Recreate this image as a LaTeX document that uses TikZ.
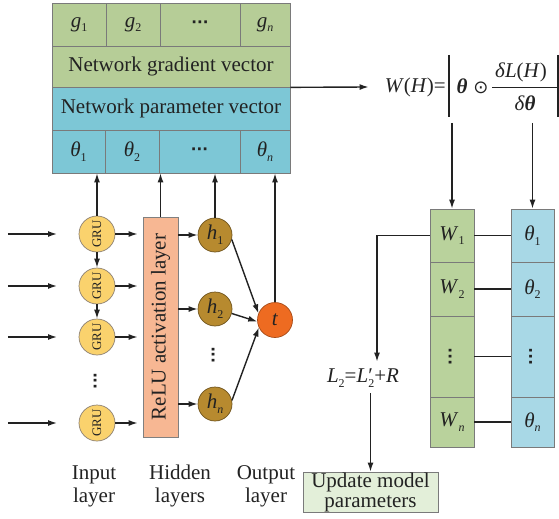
\documentclass[tikz,border=0pt]{standalone}
\usepackage{fontspec}
\setmainfont{Liberation Serif}
\newfontfamily\symfont{DejaVu Sans}
\usetikzlibrary{arrows.meta}

% small upright subscript
\newcommand\sbs[1]{\raisebox{-0.22em}{\fontsize{12bp}{12bp}\selectfont #1}}
% heavy ellipsis, horizontal and vertical
\newcommand\hdts{{\bfseries\symfont\fontsize{15bp}{15bp}\selectfont ···}}
\newcommand\vdts{\rotatebox{90}{\hdts}}

\definecolor{gradgreen}{HTML}{B6CD97}
\definecolor{parblue}{HTML}{7DC7D6}
\definecolor{wgreen}{HTML}{B9D29C}
\definecolor{thblue}{HTML}{A8D8E6}
\definecolor{gruyel}{HTML}{FAD26D}
\definecolor{hbrown}{HTML}{B78A2F}
\definecolor{torange}{HTML}{EE6B21}
\definecolor{relusal}{HTML}{F7B793}
\definecolor{updgreen}{HTML}{E3EFD9}
\definecolor{edgegray}{HTML}{7A7A7A}
\definecolor{ink}{HTML}{222222}

\begin{document}
\begin{tikzpicture}[x=1bp,y=-1bp,
  every node/.style={font=\fontsize{21bp}{23bp}\selectfont, text=ink},
  cell/.style={draw=edgegray, line width=0.7bp, rectangle, inner sep=0pt, anchor=center},
  grucirc/.style={circle, draw=gray!80!brown, line width=0.7bp, fill=gruyel, minimum size=36bp, inner sep=0pt,
                  font=\fontsize{13bp}{13bp}\selectfont},
  hcirc/.style={circle, draw=hbrown!60!black, line width=0.7bp, fill=hbrown, minimum size=34bp, inner sep=0pt},
  arr/.style={-{Latex[length=9bp,width=6bp]}, line width=1.4bp, draw=ink},
  ln/.style={line width=1.4bp, draw=ink},
  lbl/.style={align=center, inner sep=0pt}
]
\useasboundingbox (0,0) rectangle (559,519);

% ---- gradient vector (top block)
\node[cell, fill=gradgreen, minimum width=54bp, minimum height=43bp] (g1) at (79,24.5) {\textit{g}\sbs{1}};
\node[cell, fill=gradgreen, minimum width=54bp, minimum height=43bp] (g2) at (133,24.5) {\textit{g}\sbs{2}};
\node[cell, fill=gradgreen, minimum width=80bp, minimum height=43bp] (gd) at (200,24.5) {\hdts};
\node[cell, fill=gradgreen, minimum width=50bp, minimum height=43bp] (gn) at (265,24.5) {\textit{g}\sbs{\textit{n}}};
\node[cell, fill=gradgreen, minimum width=238bp, minimum height=41bp] (gv) at (171,66.5) {Network gradient vector};

% ---- parameter vector
\node[cell, fill=parblue, minimum width=238bp, minimum height=43bp] (pv) at (171,108.5) {Network parameter vector};
\node[cell, fill=parblue, minimum width=53bp, minimum height=43bp] (th1) at (78.5,151.5) {\textit{θ}\sbs{1}};
\node[cell, fill=parblue, minimum width=54bp, minimum height=43bp] (th2) at (132,151.5) {\textit{θ}\sbs{2}};
\node[cell, fill=parblue, minimum width=81bp, minimum height=43bp] (thd) at (199.5,151.5) {\hdts};
\node[cell, fill=parblue, minimum width=50bp, minimum height=43bp] (thn) at (265,151.5) {\textit{θ}\sbs{\textit{n}}};

% ---- importance formula
\node[anchor=east, inner sep=0pt] (wh) at (446,87) {\textit{W}(\textit{H})=};
\draw[ln] (449,55) -- (449,117);
\node[inner sep=0pt] (thb) at (462,86) {\textbf{\textit{θ}}};
\node[inner sep=0pt] (od) at (481,88) {\symfont\fontsize{18bp}{18bp}\selectfont ⊙};
\node[inner sep=0pt] (num) at (521,72) {\textit{δL}(\textit{H})};
\node[inner sep=0pt] (den) at (525,103) {\textit{δ}\textbf{\textit{θ}}};
\draw[line width=0.9bp, draw=ink] (492,87) -- (557,87);
\draw[ln] (557.8,55) -- (557.8,117);
\draw[arr] (gv.south east) -- ([xshift=-16bp]wh.west);

% ---- W and theta columns
\node[cell, fill=wgreen, minimum width=44bp, minimum height=53bp] (w1) at (452,235.5) {\textit{W}\sbs{1}};
\node[cell, fill=wgreen, minimum width=44bp, minimum height=54bp] (w2) at (452,289) {\textit{W}\sbs{2}};
\node[cell, fill=wgreen, minimum width=44bp, minimum height=81bp] (wd) at (452,356.5) {\vdts};
\node[cell, fill=wgreen, minimum width=44bp, minimum height=50bp] (wn) at (452,422) {\textit{W}\sbs{\textit{n}}};
\node[cell, fill=thblue, minimum width=43bp, minimum height=53bp] (t1) at (532.5,235.5) {\textit{θ}\sbs{1}};
\node[cell, fill=thblue, minimum width=43bp, minimum height=54bp] (t2) at (532.5,289) {\textit{θ}\sbs{2}};
\node[cell, fill=thblue, minimum width=43bp, minimum height=81bp] (td) at (532.5,356.5) {\vdts};
\node[cell, fill=thblue, minimum width=43bp, minimum height=50bp] (tn) at (532.5,422) {\textit{θ}\sbs{\textit{n}}};
\foreach \a/\b in {w1/t1, w2/t2, wd/td, wn/tn} \draw[ln] (\a.east) -- (\b.west);

\coordinate (ws) at (452,123);
\coordinate (ts) at (532.5,123);
\draw[arr] (ws) -- (w1.north);
\draw[arr] (ts) -- (t1.north);

% ---- regularised loss and update
\node[inner sep=3bp] (l2) at (363,378) {\textit{L}\sbs{2}=\textit{L}\rlap{′}\sbs{2}+\textit{R}};
\draw[arr, shorten >=4bp] (w1.west) -| ([xshift=14bp]l2.north);
\node[cell, fill=updgreen, minimum width=135bp, minimum height=40bp, align=center,
      font=\fontsize{21bp}{20bp}\selectfont] (upd) at (370.5,492) {Update model\\parameters};
\draw[arr, shorten <=3bp] (l2.south -| upd.north) -- (upd.north);

% ---- input layer: GRU cells
\foreach \n/\y in {1/234, 2/286, 3/337, 4/423}{
  \node[grucirc] (gru\n) at (97,\y) {\rotatebox{90}{GRU}};
  \draw[arr] ([xshift=-89bp]gru\n.center) -- ([xshift=-40bp]gru\n.center);
}
\node[inner sep=0pt] (grud) at (97,381) {\vdts};
\draw[arr] (gru1.south) -- (gru2.north);
\draw[arr] (gru2.south) -- (gru3.north);

% ---- hidden layers
\node[cell, fill=relusal, draw=gray, minimum width=35bp, minimum height=220bp] (relu) at (160.5,327)
  {\rotatebox{90}{ReLU activation layer}};
\foreach \n in {1,2,3,4}
  \draw[arr, shorten >=5bp] (gru\n.east) -- (gru\n.east -| relu.west);

\node[hcirc] (h1) at (215,235) {\textit{h}\sbs{1}};
\node[hcirc] (h2) at (215,309) {\textit{h}\sbs{2}};
\node[hcirc] (hn) at (215,404) {\textit{h}\sbs{\textit{n}}};
\node[inner sep=0pt] (hd) at (215,355) {\vdts};
\foreach \h in {h1,h2,hn}
  \draw[arr] (\h.west -| relu.east) -- (\h.west);

% ---- output
\node[circle, draw=torange!70!black, line width=0.7bp, fill=torange, minimum size=35bp, inner sep=0pt] (t) at (275,320) {\textit{t}};
\draw[arr] (h1.-15) -- (t.158);
\draw[arr] (h2.-15) -- (t.185);
\draw[arr] (hn.12) -- (t.205);

% ---- feedback to the parameter vector
\draw[arr] (gru1.north) -- (gru1.north |- th1.south);
\draw[arr] (relu.north) -- (relu.north |- th2.south);
\draw[arr] (h1.north) -- (h1.north |- thd.south);
\draw[arr] (t.north) -- (t.north |- thn.south);

% ---- layer captions
\node[lbl] (cin) at (94,486) {Input\\layer};
\node[lbl] (chid) at (180,486) {Hidden\\layers};
\node[lbl] (cout) at (266,486) {Output\\layer};
\end{tikzpicture}
\end{document}
